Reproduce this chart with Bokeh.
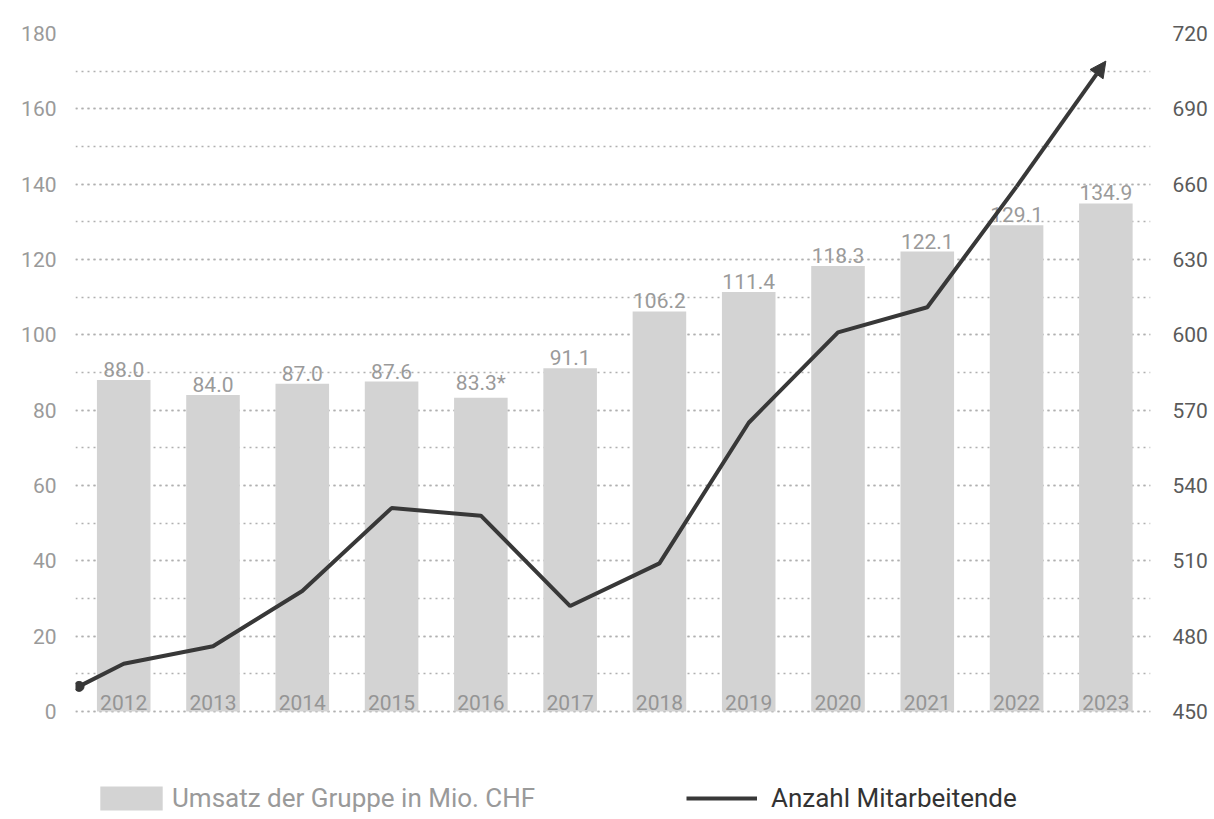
from bokeh.plotting import figure
from bokeh.models import (Range1d, LinearAxis, SingleIntervalTicker, Legend, LegendItem,
                          Arrow, NormalHead, ColumnDataSource)
from bokeh.core.properties import value
from bokeh.embed import file_html
from bokeh.resources import INLINE

# ---- data ----
years = [2012, 2013, 2014, 2015, 2016, 2017, 2018, 2019, 2020, 2021, 2022, 2023]
revenue = [88.0, 84.0, 87.0, 87.6, 83.3, 91.1, 106.2, 111.4, 118.3, 122.1, 129.1, 134.9]
revenue_labels = ["88.0", "84.0", "87.0", "87.6", "83.3*", "91.1", "106.2", "111.4",
                  "118.3", "122.1", "129.1", "134.9"]
year_labels = [str(y) for y in years]

emp_start_x = 2011.5
emp_start = 460
employees = [469, 476, 498, 531, 528, 492, 509, 565, 601, 611, 659, 709]

FONT = value("Roboto")
GRID = "#b0b0b0"

# layout: 180 units over 678 px; extra room below 0 for the legend
PX_PER_UNIT = 678 / 180
EXTRA_PX = 104
y_lo = -EXTRA_PX / PX_PER_UNIT

p = figure(frame_width=1075, frame_height=678 + EXTRA_PX,
           x_range=Range1d(2011.46, 2023.5), y_range=Range1d(y_lo, 180),
           output_backend="svg", toolbar_location=None,
           min_border_left=75, min_border_right=56, min_border_top=33, min_border_bottom=0)
p.outline_line_color = None
p.background_fill_color = "white"
p.border_fill_color = "white"
p.xaxis.visible = False
p.xgrid.visible = False

left_ticker = SingleIntervalTicker(interval=20, num_minor_ticks=2)
p.yaxis[0].ticker = left_ticker
ax = p.yaxis[0]
ax.bounds = (0, 180)
ax.axis_line_color = None
ax.major_tick_line_color = None
ax.minor_tick_line_color = None
ax.major_label_text_font = "Roboto"
ax.major_label_text_font_size = "21px"
ax.major_label_text_color = "#9a9a9a"
ax.major_label_standoff = 13

p.ygrid.ticker = left_ticker
p.ygrid.bounds = (0, 180)
p.ygrid.grid_line_color = GRID
p.ygrid.grid_line_dash = "2 4"
p.ygrid.grid_line_width = 1.5
p.ygrid.minor_grid_line_color = GRID
p.ygrid.minor_grid_line_dash = "2 4"
p.ygrid.minor_grid_line_width = 1.5

p.extra_y_ranges = {"emp": Range1d(450 + 1.5 * y_lo, 720)}
rax = LinearAxis(y_range_name="emp", ticker=SingleIntervalTicker(interval=30),
                 bounds=(450, 720))
rax.axis_line_color = None
rax.major_tick_line_color = None
rax.minor_tick_line_color = None
rax.major_label_text_font = "Roboto"
rax.major_label_text_font_size = "21px"
rax.major_label_text_color = "#5a5a5a"
rax.major_label_standoff = 16
p.add_layout(rax, "right")

src = ColumnDataSource(dict(year=years, revenue=revenue, label=revenue_labels,
                            ylab=year_labels))
bars = p.vbar(x="year", top="revenue", width=0.6, source=src,
              fill_color="#d3d3d3", line_color=None)
p.text(x="year", y="revenue", text="label", source=src, text_align="center",
       text_baseline="bottom", y_offset=-3, text_font=FONT, text_font_size="21px",
       text_color="#9a9a9a")
p.text(x="year", y=0, text="ylab", source=src, text_align="center",
       text_baseline="bottom", y_offset=-2, text_font=FONT, text_font_size="21px",
       text_color="#959595")

LINE = "#383838"
lx = [emp_start_x] + years[:-1]
ly = [emp_start] + employees[:-1]
line = p.line(x=lx, y=ly, y_range_name="emp", line_width=4, line_color=LINE)
p.scatter(x=[emp_start_x], y=[emp_start], y_range_name="emp", size=10,
          fill_color=LINE, line_color=LINE)
p.add_layout(Arrow(x_start=years[-2], y_start=employees[-2], x_end=years[-1],
                   y_end=employees[-1], y_range_name="emp", line_width=4,
                   line_color=LINE,
                   end=NormalHead(size=16, fill_color=LINE, line_color=LINE)))

leg1 = Legend(items=[LegendItem(label="Umsatz der Gruppe in Mio. CHF", renderers=[bars])],
              location=(17, 2), padding=0, margin=0, border_line_color=None,
              background_fill_alpha=0, glyph_width=78, glyph_height=30, label_standoff=2,
              label_text_font="Roboto", label_text_font_size="26px",
              label_text_color="#9a9a9a")
leg2 = Legend(items=[LegendItem(label="Anzahl Mitarbeitende", renderers=[line])],
              location=(611, 2), padding=0, margin=0, border_line_color=None,
              background_fill_alpha=0, glyph_width=71, glyph_height=30, label_standoff=14,
              label_text_font="Roboto", label_text_font_size="26px",
              label_text_color="#333333")
p.add_layout(leg1, "center")
p.add_layout(leg2, "center")

open("out.html", "w").write(file_html(p, INLINE))
